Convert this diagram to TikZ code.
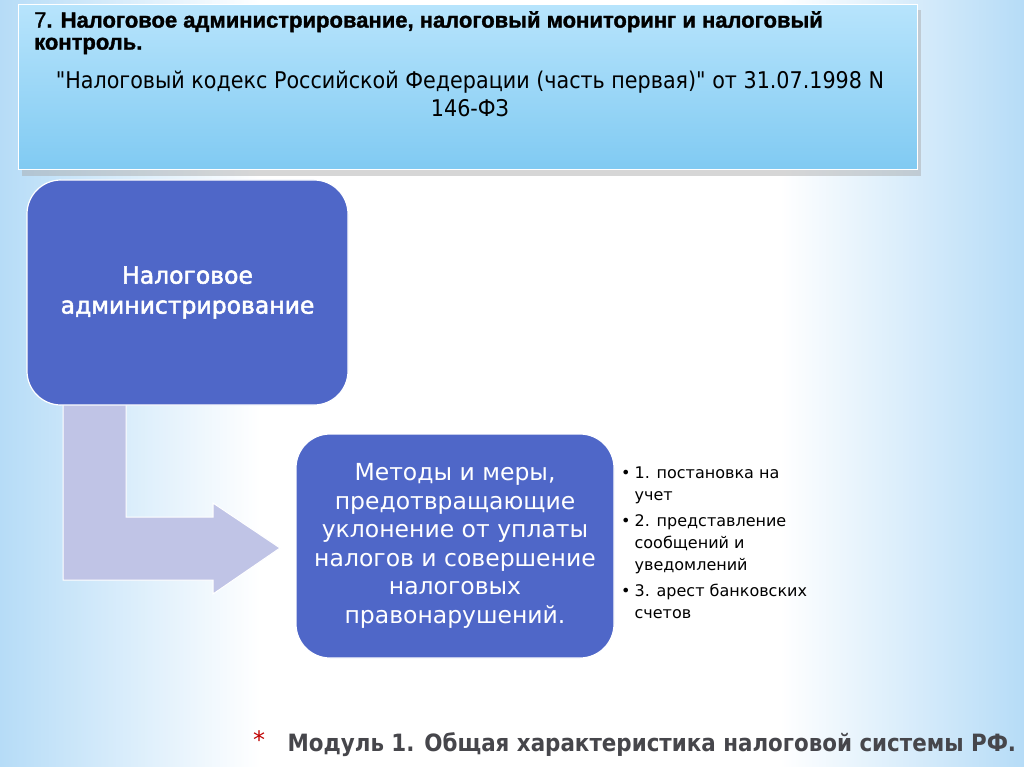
\documentclass[tikz,border=0pt]{standalone}
\usepackage{fontspec}
\setmainfont{DejaVu Sans}
\newfontfamily\headfont[FakeBold=1.5]{Liberation Sans}
\newfontfamily\condfont{DejaVu Sans Condensed}
\newfontfamily\semifont[FakeBold=2.2]{DejaVu Sans}
\usetikzlibrary{positioning, shapes}

\definecolor{boxblue}{RGB}{79,103,200}
\definecolor{arrowgray}{RGB}{192,196,230}
\definecolor{headtop}{RGB}{183,228,252}
\definecolor{headbot}{RGB}{128,202,242}
\definecolor{bgblue}{RGB}{182,220,247}
\definecolor{footgray}{RGB}{70,70,75}

\tikzset{
  bluebox/.style={rectangle, rounded corners=34pt, draw=white, line width=1.2pt,
    fill=boxblue, text=white, align=center},
  listtext/.style={anchor=north west, inner sep=0pt, font=\fontsize{16}{22}\selectfont},
}

\begin{document}
\begin{tikzpicture}[x=1pt, y=-1pt]
\useasboundingbox (0,0) rectangle (1024,767);
% background
\fill[white] (0,0) rectangle (1024,767);
\shade[left color=bgblue, right color=white] (0,0) rectangle (260,767);
\shade[left color=white, right color=bgblue] (780,0) rectangle (1024,767);

% header
\fill[black!35, opacity=0.45] (22,10) rectangle (921,176);
\path[top color=headtop, bottom color=headbot, draw=white, line width=1pt] (18,5) rectangle (917,170);
\node[anchor=north west, align=left, inner sep=0pt,
  font=\headfont\fontsize{22}{22}\selectfont] (title) at (34,11)
  {7\textbf{. Налоговое администрирование, налоговый мониторинг и налоговый}\\\textbf{контроль.}};
\node[align=center, inner sep=0pt, font=\condfont\fontsize{23}{28}\selectfont] (law) at (470,94)
  {"Налоговый кодекс Российской Федерации (часть первая)" от 31.07.1998 N\\146-ФЗ};

% arrow
\fill[arrowgray, draw=white, line width=1pt] (63,402) -- (126,402) -- (126,517) -- (213,517)
  -- (213,503) -- (280,548) -- (213,594) -- (213,580) -- (63,580) -- cycle;

% boxes
\node[bluebox, minimum width=321pt, minimum height=225pt,
  font=\semifont\fontsize{23.5}{30}\selectfont] (admin) at (187.5,292.5)
  {Налоговое\\администрирование};
\node[bluebox, minimum width=318pt, minimum height=224pt,
  font=\fontsize{23.5}{28.5}\selectfont] (methods) at (455,546)
  {Методы и меры,\\предотвращающие\\уклонение от уплаты\\налогов и совершение\\налоговых\\правонарушений.};

% list
\node[listtext] (steps) at (621,463)
  {\begin{tabular}{@{}l@{\hspace{4pt}}l@{}}
   • & 1. постановка на\\ & учет\\[4pt]
   • & 2. представление\\ & сообщений и\\ & уведомлений\\[4pt]
   • & 3. арест банковских\\ & счетов
  \end{tabular}};

% footer
\node[text=red!75!black, font=\fontsize{24}{24}\selectfont] (star) at (259,740) {*};
\node[anchor=west, text=footgray, font=\condfont\bfseries\fontsize{23.8}{24}\selectfont] (module) at (284,745)
  {Модуль 1. Общая характеристика налоговой системы РФ.};
\end{tikzpicture}
\end{document}
